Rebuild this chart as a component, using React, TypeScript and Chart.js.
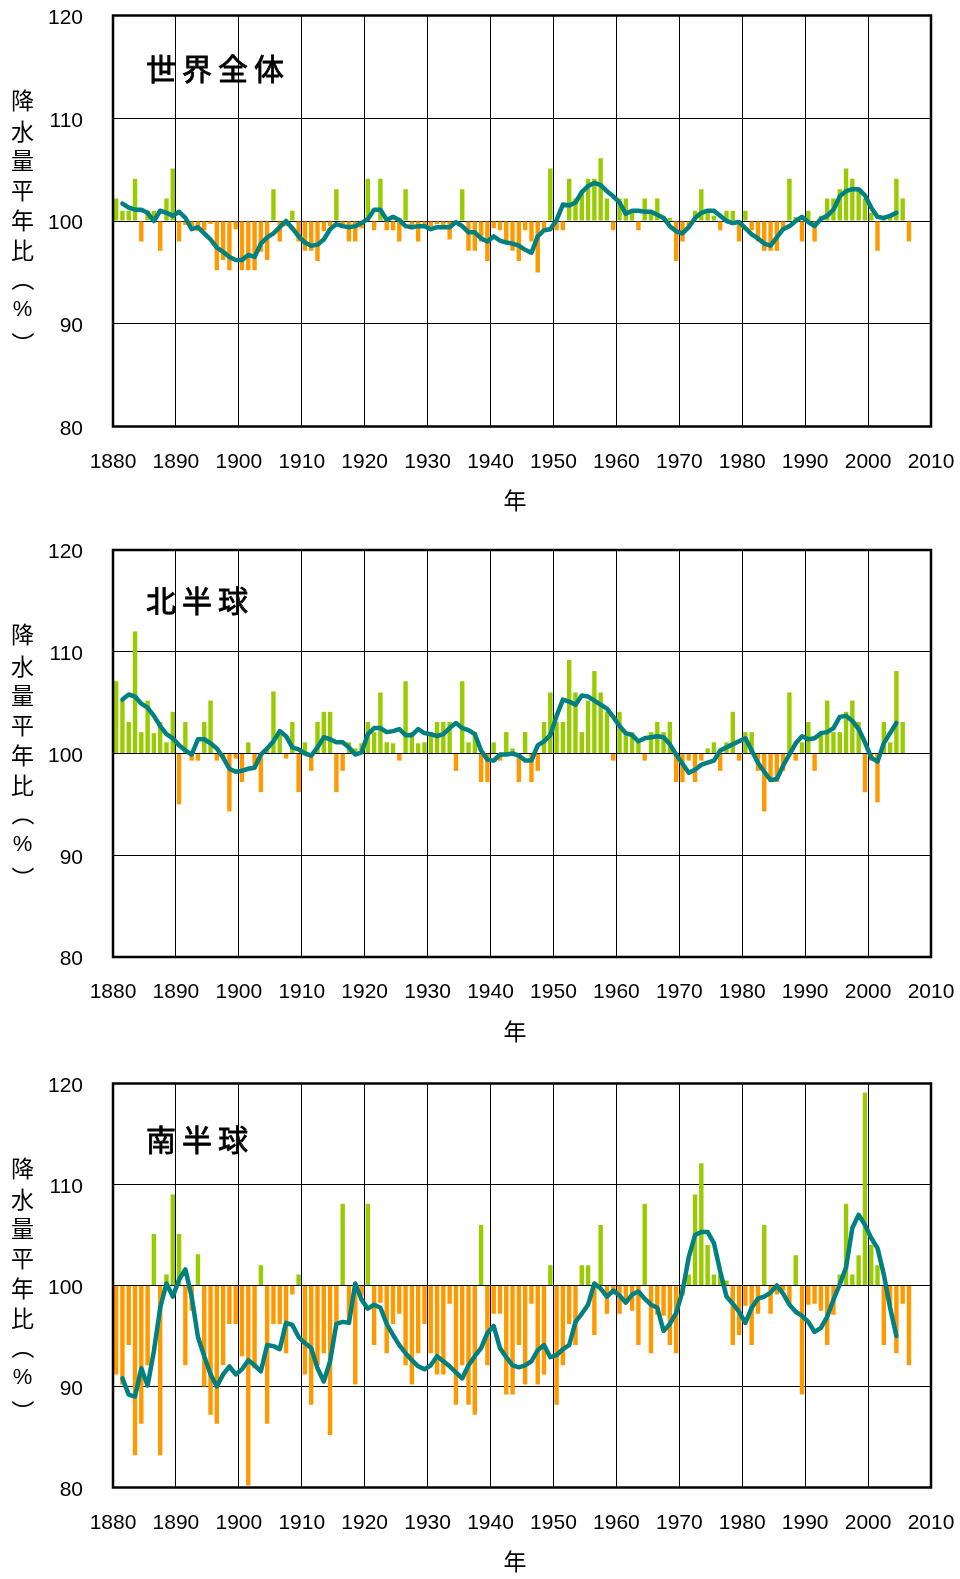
import React, { useEffect, useRef } from "react";
import { Chart, registerables } from "chart.js";

Chart.register(...registerables);

// ---------- data ----------
const BAR_FIRST_YEAR = 1880;
const LINE_FIRST_YEAR = 1881;
const BASE = 100;
const xTicks = [1880, 1890, 1900, 1910, 1920, 1930, 1940, 1950, 1960, 1970, 1980, 1990, 2000, 2010];
const yTicks = [80, 90, 100, 110, 120];

const panelTitles = ["世界全体", "北半球", "南半球"];
const yAxisTitle = ["降", "水", "量", "平", "年", "比", "（", "%", "）"];
const xAxisTitle = "年";

// 世界全体 annual ratio (%), 1880-2006
const worldBars = [
  102.2, 101, 101, 104.1, 98, 101, 101, 97.1, 102.2, 105.1,
  98, 99.6, 99.5, 99, 99.1, 99.7, 95.2, 96.2, 95.2, 99.2,
  95.2, 95.2, 95.2, 97, 96.2, 103.1, 98, 99.5, 101, 98,
  97.1, 97.1, 96.1, 99, 99.5, 103.1, 99.5, 98, 98, 99.3,
  104.1, 99.1, 104.1, 99.1, 99.1, 98, 103.1, 99.2, 98, 99.5,
  99.5, 99.7, 99.6, 98.2, 99.6, 103.1, 97.1, 97.1, 98, 96.1,
  99.3, 99.1, 98, 97.1, 96.1, 99.1, 98, 95, 99.2, 105.1,
  99.1, 99.1, 104.1, 102.2, 103, 104.1, 104.1, 106.1, 102.2, 99.1,
  102.2, 102.2, 101, 99.1, 102.2, 101, 102.2, 100.5, 100.3, 96.1,
  98, 99.5, 101, 103.1, 101, 100.5, 99.1, 101, 101, 98,
  101, 99.1, 98, 97.1, 97.1, 97.1, 99.1, 104.1, 100.4, 98,
  101, 98, 100.5, 102.2, 102.2, 103.1, 105.1, 104.1, 103.1, 102.2,
  100.8, 97.1, 100.3, 100.6, 104.1, 102.2, 98,
];
// 世界全体 running mean, 1881-2004
const worldLine = [
  101.7, 101.3, 101.1, 101.1, 100.8, 100.0, 101, 100.8, 100.5,
  100.9, 100.3, 99.2, 99.4, 98.8, 98.2, 97.4, 97.0, 96.5, 96.2,
  96.2, 96.7, 96.5, 97.8, 98.4, 98.8, 99.4, 100.0, 99.3, 98.5,
  97.9, 97.6, 97.7, 98.2, 99.2, 99.7, 99.5, 99.4, 99.5, 99.8,
  100.2, 101.1, 101.1, 100.1, 100.4, 100.1, 99.5, 99.4, 99.5, 99.5,
  99.2, 99.4, 99.4, 99.4, 99.9, 99.5, 98.9, 98.9, 98.3, 98.0,
  98.5, 98.1, 97.9, 97.8, 97.6, 97.2, 96.9, 98.5, 99.1, 99.2,
  100.1, 101.6, 101.5, 101.8, 102.8, 103.4, 103.7, 103.5, 102.9, 102.4,
  101.8, 100.7, 101.0, 101.0, 100.9, 100.9, 100.6, 100.3, 99.5, 99.0,
  98.8, 99.4, 100.3, 100.8, 101.0, 101.0, 100.5, 100.0, 99.8, 99.9,
  99.3, 98.7, 98.3, 97.8, 97.6, 98.4, 99.2, 99.5, 100.0, 100.4,
  99.9, 99.5, 100.2, 100.5, 101.1, 102.4, 102.9, 103.1, 103.1, 102.5,
  101.3, 100.4, 100.3, 100.5, 100.8,
];

// 北半球 annual ratio (%), 1880-2005
const nhBars = [
  107.1, 105.2, 103.1, 112, 102.1, 105.2, 102, 103.1, 101.1, 104.1,
  95, 103.1, 99.3, 99.3, 103.1, 105.2, 99.3, 99.5, 94.3, 99.5,
  97.2, 101.1, 98.8, 96.2, 100.6, 106.1, 102.1, 99.5, 103.1, 96.2,
  101.1, 98.3, 103.1, 104.1, 104.1, 96.2, 98.3, 101.1, 100.5, 101,
  103.1, 102.1, 106, 101.1, 101, 99.3, 107.1, 102.1, 101, 101.1,
  102.1, 103.1, 103.1, 103.1, 98.3, 107.1, 101.1, 102.1, 97.2, 97.2,
  101.1, 99.3, 102.1, 100.5, 97.2, 102.1, 97.2, 98.3, 103.1, 106,
  103.1, 103.1, 109.2, 106, 102.1, 105.2, 108.1, 106, 104.1, 99.3,
  104.1, 102.1, 102.1, 101.1, 99.3, 102.1, 103.1, 102.1, 103.1, 97.2,
  97.2, 99.3, 97.2, 99.3, 100.5, 101.1, 98.3, 101.1, 104.1, 99.3,
  102.1, 102.1, 98.3, 94.3, 97.2, 97.2, 98.3, 106, 99.3, 101.1,
  103.1, 98.3, 102.1, 105.2, 102.1, 102.1, 104.1, 105.2, 103.1, 96.2,
  99.3, 95.2, 103.1, 101.1, 108.1, 103.1,
];
// 北半球 running mean, 1881-2004
const nhLine = [
  105.3, 105.8, 105.6, 104.9, 104.5, 103.7, 102.7, 101.9, 101.5,
  100.8, 100.3, 99.9, 101.4, 101.4, 101.0, 100.5, 99.6, 98.5, 98.2,
  98.3, 98.5, 98.6, 99.9, 100.5, 101.2, 102.2, 101.7, 100.6, 100.4,
  100.0, 99.8, 100.6, 101.6, 101.4, 101.1, 101.1, 100.6, 99.9, 100.1,
  101.9, 102.5, 102.5, 102.1, 102.2, 102.4, 101.8, 101.8, 102.4, 102.0,
  101.9, 101.7, 101.9, 102.5, 103.0, 102.5, 102.3, 101.9, 100.3, 99.4,
  99.3, 99.9, 99.9, 100.0, 99.8, 99.3, 99.3, 100.8, 101.2, 101.8,
  103.7, 105.3, 105.1, 104.8, 105.7, 105.6, 105.2, 104.8, 104.4, 103.6,
  102.7, 102.0, 101.8, 101.2, 101.5, 101.6, 101.7, 101.6, 100.9, 99.9,
  99.0, 98.1, 98.4, 98.9, 99.1, 99.3, 100.3, 100.6, 100.9, 101.2,
  101.5, 100.3, 99.1, 98.2, 97.4, 97.5, 98.8, 99.9, 101.0, 101.7,
  101.4, 101.5, 102.0, 102.1, 102.5, 103.6, 103.7, 103.2, 102.4, 101.1,
  99.6, 99.2, 101.0, 102.0, 103.0,
];

// 南半球 annual ratio (%), 1880-2006
const shBars = [
  91.2, 90.2, 94.1, 83.2, 86.3, 92.1, 105.1, 83.2, 101.1, 109,
  105.1, 92.1, 97.5, 103.1, 90, 87.2, 86.3, 92.1, 96.2, 96.2,
  93, 80.2, 91.8, 102, 86.3, 96.2, 96.2, 93.3, 99.1, 101.1,
  91.2, 88.2, 92.1, 93.3, 85.2, 96, 108.1, 96.2, 90.2, 99,
  108.1, 94.1, 98.3, 93.3, 96.2, 97.2, 92.1, 90.2, 93.3, 96.2,
  93.3, 91.2, 91.2, 98.2, 88.2, 92.1, 88.2, 87.2, 106, 92.1,
  97.2, 97.2, 89.2, 89.2, 94.1, 90.2, 98.2, 90.2, 91.2, 102,
  88.2, 92.1, 96.2, 94.1, 102, 102, 95.1, 106, 97.2, 99.1,
  97.2, 98.5, 97.5, 94.1, 108.1, 93.3, 97.1, 97, 94.1, 93.3,
  99, 101.1, 109, 112.1, 104, 101.1, 101.1, 100.5, 94.1, 95.1,
  98, 94.1, 97.2, 106, 97.2, 99.1, 99.5, 98.1, 103, 89.2,
  98.1, 98.2, 97.5, 94.1, 97.1, 101.1, 108.1, 101.1, 103, 119.1,
  104, 102, 94.1, 98, 93.3, 98.2, 92.1,
];
// 南半球 running mean, 1881-2004
const shLine = [
  90.8, 89.2, 89.0, 91.8, 90.1, 93.5, 97.8, 100.2, 98.9,
  100.6, 101.6, 98.9, 94.9, 93.0, 91.2, 90.0, 91.2, 92.0, 91.2,
  91.7, 92.6, 92.1, 91.5, 94.1, 94.0, 93.7, 96.3, 96.1, 94.9,
  94.3, 93.8, 91.8, 90.5, 92.5, 96.2, 96.4, 96.3, 100.2, 98.6,
  97.7, 98.1, 97.8, 96.2, 95.1, 94.1, 93.3, 92.6, 92.0, 91.7,
  92.1, 93.0, 92.5, 92.0, 91.4, 90.8, 92.1, 93.0, 93.8, 95.3,
  96.0, 93.8, 92.9, 92.1, 91.9, 92.1, 92.5, 93.6, 94.1, 92.9,
  93.1, 93.7, 94.1, 96.4, 97.2, 98.1, 100.2, 99.7, 98.9, 99.5,
  99.0, 98.3, 99.1, 99.4, 98.7, 98.1, 97.8, 95.5, 96.2, 97.3,
  99.4, 102.8, 105.0, 105.3, 105.3, 104.2, 101.4, 98.9, 98.2, 97.4,
  96.3, 97.8, 98.7, 98.9, 99.3, 100.0, 99.2, 98.1, 97.4, 97.0,
  96.4, 95.4, 95.8, 96.9, 98.6, 100.1, 101.8, 105.7, 107.0, 106.0,
  104.7, 103.7, 101.1, 97.8, 95.0,
];

// ---------- style ----------
const GREEN = "#99cc00";
const ORANGE = "#ff9900";
const TEAL = "#008080";
const NUM_FONT = "'Liberation Sans', Arial, sans-serif";
const CJK_FONT = "'Noto Sans CJK JP', 'Noto Sans CJK SC', sans-serif";

type PanelCfg = {
  title: string;
  bars: number[];
  line: number[];
  top: number;
  height: number;
  plotTop: number;
  plotBottom: number;
  titleDy: number;
};

const panels: PanelCfg[] = [
  { title: panelTitles[0], bars: worldBars, line: worldLine, top: 0, height: 533, plotTop: 15.5, plotBottom: 426.5, titleDy: 53 },
  { title: panelTitles[1], bars: nhBars, line: nhLine, top: 533, height: 534, plotTop: 17, plotBottom: 424, titleDy: 51 },
  { title: panelTitles[2], bars: shBars, line: shLine, top: 1067, height: 512, plotTop: 16.5, plotBottom: 420.5, titleDy: 56 },
];

const yTitleOffsets = [84.5, 116, 145, 175, 205, 235, 264, 294.5, 328];

function makeDecor(cfg: PanelCfg) {
  return {
    id: "decor",
    afterDatasetsDraw(chart: any) {
      const { ctx, chartArea: a } = chart;
      ctx.save();
      ctx.strokeStyle = "#000";
      ctx.lineWidth = 2.5;
      ctx.strokeRect(a.left, a.top, a.right - a.left, a.bottom - a.top);

      ctx.fillStyle = "#000";
      ctx.font = `30px ${CJK_FONT}`;
      ctx.textAlign = "left";
      ctx.textBaseline = "middle";
      ctx.lineWidth = 0.8;
      Array.from(cfg.title).forEach((ch, i) => {
        const x = 146 + i * 36;
        const y = a.top + cfg.titleDy;
        ctx.fillText(ch, x, y);
        ctx.strokeText(ch, x, y);
      });

      ctx.font = `23px ${CJK_FONT}`;
      ctx.textAlign = "center";
      yAxisTitle.forEach((ch, i) => {
        const y = a.top + yTitleOffsets[i];
        if (ch === "（" || ch === "）") {
          ctx.save();
          ctx.translate(22.5, y);
          ctx.rotate(Math.PI / 2);
          ctx.fillText(ch, 0, 0);
          ctx.restore();
        } else if (ch === "%") {
          ctx.save();
          ctx.font = `22px ${NUM_FONT}`;
          ctx.fillText(ch, 22.5, y);
          ctx.restore();
        } else {
          ctx.fillText(ch, 22.5, y);
        }
      });

      ctx.font = `23px ${CJK_FONT}`;
      ctx.fillText(xAxisTitle, 515, a.bottom + 74);
      ctx.restore();
    },
  };
}

function Panel({ cfg }: { cfg: PanelCfg }) {
  const ref = useRef<HTMLCanvasElement | null>(null);
  useEffect(() => {
    if (!ref.current) return;
    const barPts = cfg.bars.map((v, i) => ({ x: BAR_FIRST_YEAR + i + 0.5, y: v }));
    const linePts = cfg.line.map((v, i) => ({ x: LINE_FIRST_YEAR + i + 0.5, y: v }));
    const chart = new Chart(ref.current, {
      type: "bar",
      data: {
        datasets: [
          {
            type: "line",
            data: linePts,
            borderColor: TEAL,
            borderWidth: 4.5,
            pointRadius: 0,
            tension: 0,
            borderJoinStyle: "round",
            borderCapStyle: "round",
            order: 1,
          } as any,
          {
            type: "bar",
            data: barPts,
            base: BASE,
            backgroundColor: cfg.bars.map((v) => (v >= BASE ? GREEN : ORANGE)),
            borderWidth: 0,
            barPercentage: 0.7,
            categoryPercentage: 1,
            order: 2,
          } as any,
        ],
      },
      options: {
        animation: false,
        responsive: false,
        maintainAspectRatio: false,
        layout: { padding: { left: 0, right: 29, top: cfg.plotTop, bottom: 0 } },
        plugins: { legend: { display: false }, tooltip: { enabled: false }, title: { display: false } },
        scales: {
          x: {
            type: "linear",
            offset: false,
            min: xTicks[0],
            max: xTicks[xTicks.length - 1],
            afterBuildTicks: (s: any) => {
              s.ticks = xTicks.map((v) => ({ value: v }));
            },
            afterFit: (s: any) => {
              s.height = cfg.height - cfg.plotBottom;
              s.paddingLeft = 0;
              s.paddingRight = 0;
            },
            ticks: {
              callback: (v: any) => String(v),
              font: { family: NUM_FONT, size: 21 },
              color: "#000",
              padding: 23,
              maxRotation: 0,
              autoSkip: false,
            },
            grid: { color: "#000", lineWidth: 1, drawTicks: false, offset: false },
            border: { display: false },
          },
          y: {
            type: "linear",
            min: yTicks[0],
            max: yTicks[yTicks.length - 1],
            afterBuildTicks: (s: any) => {
              s.ticks = yTicks.map((v) => ({ value: v }));
            },
            afterFit: (s: any) => {
              s.width = 113;
              s.paddingTop = 0;
              s.paddingBottom = 0;
            },
            ticks: {
              callback: (v: any) => String(v),
              font: { family: NUM_FONT, size: 21 },
              color: "#000",
              padding: 30,
              labelOffset: 2.5,
            },
            grid: { color: "#000", lineWidth: 1, drawTicks: false },
            border: { display: false },
          },
        },
      } as any,
      plugins: [makeDecor(cfg)],
    });
    return () => chart.destroy();
  }, [cfg]);
  return (
    <canvas
      ref={ref}
      width={960}
      height={cfg.height}
      style={{ position: "absolute", left: 0, top: cfg.top, width: 960, height: cfg.height, display: "block" }}
    />
  );
}

export default function App() {
  return (
    <div style={{ position: "absolute", left: 0, top: 0, width: 960, height: 1579, background: "#fff" }}>
      {panels.map((p, i) => (
        <Panel key={i} cfg={p} />
      ))}
    </div>
  );
}
